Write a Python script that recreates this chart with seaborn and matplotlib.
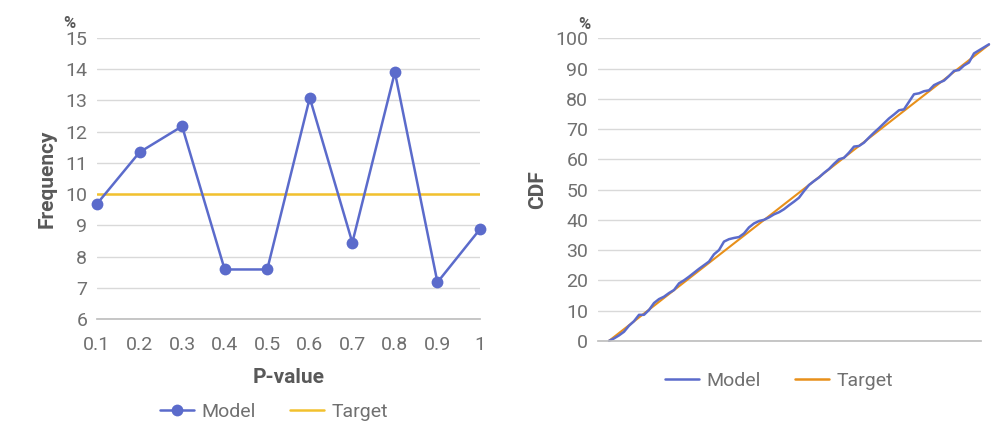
import numpy as np
import pandas as pd
import matplotlib
matplotlib.use("Agg")
import matplotlib.pyplot as plt
import seaborn as sns
from matplotlib.lines import Line2D

# left chart: histogram of p-values
p_values = [0.1, 0.2, 0.3, 0.4, 0.5, 0.6, 0.7, 0.8, 0.9, 1.0]
p_labels = ["0.1", "0.2", "0.3", "0.4", "0.5", "0.6", "0.7", "0.8", "0.9", "1"]
model_freq = [9.69, 11.34, 12.17, 7.59, 7.59, 13.08, 8.45, 13.90, 7.18, 8.88]
target_freq = [10.0, 10.0, 10.0, 10.0, 10.0, 10.0, 10.0, 10.0, 10.0, 10.0]
freq_ticks = [6, 7, 8, 9, 10, 11, 12, 13, 14, 15]

# right chart: cumulative distribution
model_cdf = [0, 0.8, 1.8, 3.0, 5.0, 6.5, 8.6, 8.6, 10.2, 12.5,
             13.8, 14.6, 15.8, 16.8, 19.0, 20.0, 21.2, 22.5, 23.8, 25.0,
             26.2, 28.6, 30.0, 32.8, 33.6, 34.0, 34.3, 35.5, 37.5, 38.8,
             39.6, 40.0, 40.8, 41.8, 42.5, 43.5, 44.8, 46.0, 47.3, 49.5,
             51.5, 52.8, 54.0, 55.5, 56.8, 58.5, 60.0, 60.5, 62.2, 64.2,
             64.4, 65.5, 67.2, 68.8, 70.3, 71.9, 73.5, 74.8, 76.2, 76.5,
             79.0, 81.5, 81.8, 82.5, 82.8, 84.5, 85.3, 86.0, 87.5, 89.2,
             89.5, 91.0, 92.0, 95.0, 96.0, 97.0, 98.0]
target_cdf_ends = [0, 97.9]
cdf_ticks = [0, 10, 20, 30, 40, 50, 60, 70, 80, 90, 100]

blue = "#5b6bcb"
yellow = "#f2c12e"
orange = "#e8901a"
grey = "#707070"
label_grey = "#595959"
grid_c = "#d9d9d9"

sns.set_theme(style="white")
plt.rcParams["font.family"] = ["Roboto", "DejaVu Sans"]

fig = plt.figure(figsize=(10, 4.25), dpi=100)
ax1 = fig.add_axes([0.097, 0.249, 0.383, 0.662])
ax2 = fig.add_axes([0.598, 0.198, 0.383, 0.712])

left = pd.DataFrame({"p": p_values, "Model": model_freq, "Target": target_freq})
sns.lineplot(data=left, x="p", y="Target", ax=ax1, color=yellow, lw=1.8)
sns.lineplot(data=left, x="p", y="Model", ax=ax1, color=blue, lw=1.8,
             marker="o", markersize=8.5, markeredgewidth=0, clip_on=False)

n = len(model_cdf)
right = pd.DataFrame({"i": range(n), "Model": model_cdf})
sns.lineplot(x=[0, n - 1], y=target_cdf_ends, ax=ax2, color=orange, lw=1.5, clip_on=False)
sns.lineplot(data=right, x="i", y="Model", ax=ax2, color=blue, lw=1.8, clip_on=False)

for ax in (ax1, ax2):
    for s in ["top", "right", "left"]:
        ax.spines[s].set_visible(False)
    ax.spines["bottom"].set_color("#bfbfbf")
    ax.grid(axis="y", color=grid_c, lw=1)
    ax.set_axisbelow(True)
    ax.tick_params(axis="both", length=0, labelsize=14, colors=grey, pad=7)

ax1.set_xlim(0.1, 1.0)
ax1.set_ylim(6, 15)
ax1.set_xticks(p_values)
ax1.set_xticklabels(p_labels)
ax1.set_yticks(freq_ticks)
ax1.tick_params(axis="x", pad=12)
ax1.set_xlabel("P-value", fontsize=15, fontweight="bold", color=label_grey, labelpad=10)
ax1.set_ylabel("Frequency", fontsize=15, fontweight="bold", color=label_grey, labelpad=6)
ax1.text(-0.072, 1.025, "%", transform=ax1.transAxes, fontsize=12, fontweight="bold",
         color=label_grey, ha="center", va="bottom")

ax2.set_xlim(-2.2, 74.4)
ax2.set_ylim(0, 100)
ax2.set_xticks([])
ax2.set_yticks(cdf_ticks)
ax2.set_xlabel("")
ax2.set_ylabel("CDF", fontsize=15, fontweight="bold", color=label_grey, labelpad=6)
ax2.text(-0.036, 1.02, "%", transform=ax2.transAxes, fontsize=12, fontweight="bold",
         color=label_grey, ha="center", va="bottom")

h1 = [Line2D([], [], color=blue, lw=1.8, marker="o", markersize=8.5, markeredgewidth=0),
      Line2D([], [], color=yellow, lw=1.8)]
fig.legend(h1, ["Model", "Target"], loc="center", bbox_to_anchor=(0.274, 0.031),
           ncol=2, frameon=False, fontsize=14, labelcolor=grey,
           handlelength=1.75, columnspacing=1.8, handletextpad=0.35)
h2 = [Line2D([], [], color=blue, lw=1.8), Line2D([], [], color=orange, lw=1.8)]
fig.legend(h2, ["Model", "Target"], loc="center", bbox_to_anchor=(0.779, 0.104),
           ncol=2, frameon=False, fontsize=14, labelcolor=grey,
           handlelength=1.75, columnspacing=1.8, handletextpad=0.35)

fig.savefig("out.png", dpi=100, facecolor="white")
